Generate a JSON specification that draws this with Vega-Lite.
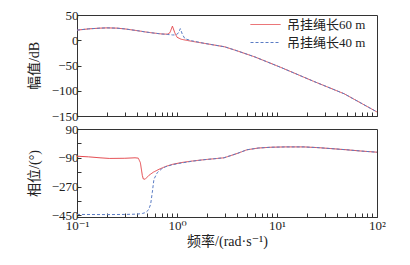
{
  "$schema": "https://vega.github.io/schema/vega-lite/v6.json",
  "background": "white",
  "padding": {"left": 26, "top": 8, "right": 5, "bottom": 5},
  "bounds": "flush",
  "config": {
    "font": "Times New Roman, Liberation Serif, DejaVu Serif, Noto Sans CJK SC, serif",
    "view": {"stroke": "#333", "strokeWidth": 1},
    "concat": {"spacing": 13},
    "axis": {
      "labelFont": "Times New Roman, Liberation Serif, DejaVu Serif, Noto Sans CJK SC, serif",
      "labelFontSize": 13,
      "labelColor": "#222",
      "titleFont": "Times New Roman, Liberation Serif, DejaVu Serif, Noto Sans CJK SC, serif",
      "titleFontSize": 14,
      "titleFontWeight": "normal",
      "titleColor": "#222",
      "domainColor": "#333",
      "tickColor": "#333",
      "grid": false,
      "tickSize": -4,
      "labelPadding": 3,
      "labelFlush": false,
      "labelOverlap": false
    },
    "legend": {
      "labelFont": "Times New Roman, Liberation Serif, DejaVu Serif, Noto Sans CJK SC, serif",
      "labelFontSize": 13,
      "labelColor": "#222"
    }
  },
  "datasets": {
    "mag": [
      {"series": "吊挂绳长60 m", "f": 0.1, "v": 20},
      {"series": "吊挂绳长60 m", "f": 0.13, "v": 22.5},
      {"series": "吊挂绳长60 m", "f": 0.17, "v": 24},
      {"series": "吊挂绳长60 m", "f": 0.2, "v": 24.5},
      {"series": "吊挂绳长60 m", "f": 0.25, "v": 24},
      {"series": "吊挂绳长60 m", "f": 0.3, "v": 22.5},
      {"series": "吊挂绳长60 m", "f": 0.4, "v": 19},
      {"series": "吊挂绳长60 m", "f": 0.5, "v": 16},
      {"series": "吊挂绳长60 m", "f": 0.6, "v": 14},
      {"series": "吊挂绳长60 m", "f": 0.7, "v": 12.5},
      {"series": "吊挂绳长60 m", "f": 0.8, "v": 12},
      {"series": "吊挂绳长60 m", "f": 0.85, "v": 15},
      {"series": "吊挂绳长60 m", "f": 0.9, "v": 28},
      {"series": "吊挂绳长60 m", "f": 0.95, "v": 15},
      {"series": "吊挂绳长60 m", "f": 1.0, "v": 6},
      {"series": "吊挂绳长60 m", "f": 1.1, "v": 2},
      {"series": "吊挂绳长60 m", "f": 1.2, "v": 0.5},
      {"series": "吊挂绳长60 m", "f": 1.4, "v": -2},
      {"series": "吊挂绳长60 m", "f": 1.86, "v": -6},
      {"series": "吊挂绳长60 m", "f": 3, "v": -13},
      {"series": "吊挂绳长60 m", "f": 4, "v": -21},
      {"series": "吊挂绳长60 m", "f": 6, "v": -33},
      {"series": "吊挂绳长60 m", "f": 11, "v": -54},
      {"series": "吊挂绳长60 m", "f": 23, "v": -81},
      {"series": "吊挂绳长60 m", "f": 47, "v": -106},
      {"series": "吊挂绳长60 m", "f": 100, "v": -142},
      {"series": "吊挂绳长40 m", "f": 0.1, "v": 20},
      {"series": "吊挂绳长40 m", "f": 0.13, "v": 22.5},
      {"series": "吊挂绳长40 m", "f": 0.17, "v": 24},
      {"series": "吊挂绳长40 m", "f": 0.2, "v": 24.5},
      {"series": "吊挂绳长40 m", "f": 0.25, "v": 24},
      {"series": "吊挂绳长40 m", "f": 0.3, "v": 22.5},
      {"series": "吊挂绳长40 m", "f": 0.4, "v": 19},
      {"series": "吊挂绳长40 m", "f": 0.5, "v": 16},
      {"series": "吊挂绳长40 m", "f": 0.6, "v": 14},
      {"series": "吊挂绳长40 m", "f": 0.7, "v": 12.5},
      {"series": "吊挂绳长40 m", "f": 0.8, "v": 11.5},
      {"series": "吊挂绳长40 m", "f": 0.9, "v": 10.5},
      {"series": "吊挂绳长40 m", "f": 0.97, "v": 10.5},
      {"series": "吊挂绳长40 m", "f": 1.03, "v": 14},
      {"series": "吊挂绳长40 m", "f": 1.08, "v": 23},
      {"series": "吊挂绳长40 m", "f": 1.13, "v": 12},
      {"series": "吊挂绳长40 m", "f": 1.2, "v": 3},
      {"series": "吊挂绳长40 m", "f": 1.4, "v": -1},
      {"series": "吊挂绳长40 m", "f": 1.86, "v": -6},
      {"series": "吊挂绳长40 m", "f": 3, "v": -13},
      {"series": "吊挂绳长40 m", "f": 4, "v": -21},
      {"series": "吊挂绳长40 m", "f": 6, "v": -33},
      {"series": "吊挂绳长40 m", "f": 11, "v": -54},
      {"series": "吊挂绳长40 m", "f": 23, "v": -81},
      {"series": "吊挂绳长40 m", "f": 47, "v": -106},
      {"series": "吊挂绳长40 m", "f": 100, "v": -142}
    ],
    "phase": [
      {"series": "吊挂绳长60 m", "f": 0.1, "v": -80},
      {"series": "吊挂绳长60 m", "f": 0.13, "v": -84},
      {"series": "吊挂绳长60 m", "f": 0.17, "v": -90},
      {"series": "吊挂绳长60 m", "f": 0.21, "v": -94},
      {"series": "吊挂绳长60 m", "f": 0.3, "v": -93},
      {"series": "吊挂绳长60 m", "f": 0.38, "v": -90},
      {"series": "吊挂绳长60 m", "f": 0.41, "v": -92},
      {"series": "吊挂绳长60 m", "f": 0.43, "v": -120},
      {"series": "吊挂绳长60 m", "f": 0.45, "v": -200},
      {"series": "吊挂绳长60 m", "f": 0.46, "v": -222},
      {"series": "吊挂绳长60 m", "f": 0.48, "v": -224},
      {"series": "吊挂绳长60 m", "f": 0.525, "v": -199},
      {"series": "吊挂绳长60 m", "f": 0.58, "v": -180},
      {"series": "吊挂绳长60 m", "f": 0.66, "v": -162},
      {"series": "吊挂绳长60 m", "f": 0.77, "v": -144},
      {"series": "吊挂绳长60 m", "f": 0.9, "v": -131},
      {"series": "吊挂绳长60 m", "f": 1.1, "v": -120},
      {"series": "吊挂绳长60 m", "f": 1.43, "v": -110},
      {"series": "吊挂绳长60 m", "f": 1.86, "v": -102},
      {"series": "吊挂绳长60 m", "f": 2.95, "v": -90},
      {"series": "吊挂绳长60 m", "f": 4, "v": -63},
      {"series": "吊挂绳长60 m", "f": 5, "v": -40},
      {"series": "吊挂绳长60 m", "f": 6.5, "v": -29},
      {"series": "吊挂绳长60 m", "f": 8.7, "v": -24},
      {"series": "吊挂绳长60 m", "f": 12, "v": -22},
      {"series": "吊挂绳长60 m", "f": 18.6, "v": -22},
      {"series": "吊挂绳长60 m", "f": 25, "v": -26},
      {"series": "吊挂绳长60 m", "f": 34, "v": -32},
      {"series": "吊挂绳长60 m", "f": 50, "v": -40},
      {"series": "吊挂绳长60 m", "f": 70, "v": -48},
      {"series": "吊挂绳长60 m", "f": 100, "v": -55},
      {"series": "吊挂绳长40 m", "f": 0.1, "v": -444},
      {"series": "吊挂绳长40 m", "f": 0.2, "v": -445},
      {"series": "吊挂绳长40 m", "f": 0.3, "v": -444},
      {"series": "吊挂绳长40 m", "f": 0.4, "v": -442},
      {"series": "吊挂绳长40 m", "f": 0.45, "v": -438},
      {"series": "吊挂绳长40 m", "f": 0.486, "v": -432},
      {"series": "吊挂绳长40 m", "f": 0.52, "v": -415},
      {"series": "吊挂绳长40 m", "f": 0.545, "v": -380},
      {"series": "吊挂绳长40 m", "f": 0.566, "v": -307},
      {"series": "吊挂绳长40 m", "f": 0.588, "v": -224},
      {"series": "吊挂绳长40 m", "f": 0.635, "v": -183},
      {"series": "吊挂绳长40 m", "f": 0.7, "v": -160},
      {"series": "吊挂绳长40 m", "f": 0.77, "v": -146},
      {"series": "吊挂绳长40 m", "f": 0.9, "v": -133},
      {"series": "吊挂绳长40 m", "f": 1.05, "v": -125},
      {"series": "吊挂绳长40 m", "f": 1.43, "v": -111},
      {"series": "吊挂绳长40 m", "f": 1.86, "v": -102},
      {"series": "吊挂绳长40 m", "f": 2.95, "v": -90},
      {"series": "吊挂绳长40 m", "f": 4, "v": -63},
      {"series": "吊挂绳长40 m", "f": 5, "v": -40},
      {"series": "吊挂绳长40 m", "f": 6.5, "v": -29},
      {"series": "吊挂绳长40 m", "f": 8.7, "v": -24},
      {"series": "吊挂绳长40 m", "f": 12, "v": -22},
      {"series": "吊挂绳长40 m", "f": 18.6, "v": -22},
      {"series": "吊挂绳长40 m", "f": 25, "v": -26},
      {"series": "吊挂绳长40 m", "f": 34, "v": -32},
      {"series": "吊挂绳长40 m", "f": 50, "v": -40},
      {"series": "吊挂绳长40 m", "f": 70, "v": -48},
      {"series": "吊挂绳长40 m", "f": 100, "v": -55}
    ]
  },
  "vconcat": [
    {
      "width": 300,
      "height": 101,
      "data": {"name": "mag"},
      "mark": {"type": "line", "strokeWidth": 1, "clip": true},
      "encoding": {
        "x": {
          "field": "f", "type": "quantitative",
          "scale": {"type": "log", "domain": [0.1, 100], "nice": false},
          "axis": {"title": null, "labels": false,
            "values": [0.1,0.2,0.3,0.4,0.5,0.6,0.7,0.8,0.9,1,2,3,4,5,6,7,8,9,10,20,30,40,50,60,70,80,90,100]}
        },
        "y": {
          "field": "v", "type": "quantitative",
          "scale": {"domain": [-150, 50], "nice": false},
          "axis": {"title": "幅值/dB", "values": [50, 0, -50, -100, -150],
            "labelExpr": "replace(datum.label, '-', '−')", "titlePadding": 10}
        },
        "color": {
          "field": "series", "type": "nominal",
          "scale": {"domain": ["吊挂绳长60 m", "吊挂绳长40 m"], "range": ["#e5484d", "#5a7cc4"]},
          "legend": {"title": null, "orient": "none", "legendX": 172, "legendY": 3,
            "symbolType": "M-1,0H5", "symbolSize": 100, "symbolStrokeWidth": 1, "symbolFillColor": "transparent",
            "rowPadding": 4, "labelOffset": 25}
        },
        "strokeDash": {
          "field": "series", "type": "nominal",
          "scale": {"domain": ["吊挂绳长60 m", "吊挂绳长40 m"], "range": [[1, 0], [3, 2]]},
          "legend": {"title": null}
        }
      }
    },
    {
      "width": 300,
      "height": 88,
      "data": {"name": "phase"},
      "mark": {"type": "line", "strokeWidth": 1, "clip": true},
      "encoding": {
        "x": {
          "field": "f", "type": "quantitative",
          "scale": {"type": "log", "domain": [0.1, 100], "nice": false},
          "axis": {"title": "频率/(rad·s⁻¹)",
            "values": [0.1,0.2,0.3,0.4,0.5,0.6,0.7,0.8,0.9,1,2,3,4,5,6,7,8,9,10,20,30,40,50,60,70,80,90,100],
            "labelExpr": "datum.value == 0.1 ? '10⁻¹' : datum.value == 1 ? '10⁰' : datum.value == 10 ? '10¹' : datum.value == 100 ? '10²' : ''",
            "labelPadding": 6, "titlePadding": 2}
        },
        "y": {
          "field": "v", "type": "quantitative",
          "scale": {"domain": [-460, 90], "nice": false},
          "axis": {"title": "相位/(°)", "values": [90, 0, -90, -180, -270, -360, -450],
            "labelExpr": "(datum.value % 180 == 90 || datum.value % 180 == -90) ? replace(datum.label, '-', '−') : ''",
            "titlePadding": 10}
        },
        "color": {
          "field": "series", "type": "nominal",
          "scale": {"domain": ["吊挂绳长60 m", "吊挂绳长40 m"], "range": ["#e5484d", "#5a7cc4"]},
          "legend": null
        },
        "strokeDash": {
          "field": "series", "type": "nominal",
          "scale": {"domain": ["吊挂绳长60 m", "吊挂绳长40 m"], "range": [[1, 0], [3, 2]]},
          "legend": null
        }
      }
    }
  ]
}
